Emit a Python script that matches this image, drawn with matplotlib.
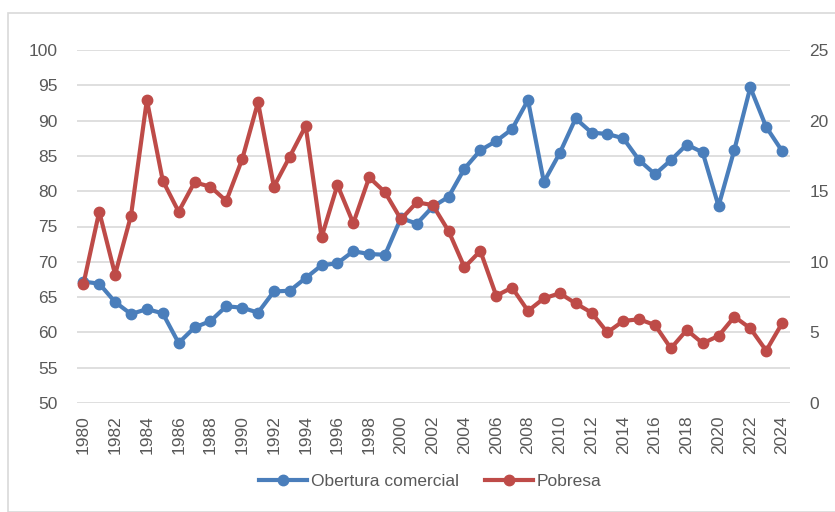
import numpy as np
import matplotlib.pyplot as plt
from matplotlib.patches import Rectangle

years = list(range(1980, 2025))

# left axis
obertura = [67.2, 66.9, 64.3, 62.6, 63.3, 62.7, 58.5, 60.7, 61.6, 63.7,
            63.5, 62.8, 65.8, 65.9, 67.7, 69.5, 69.8, 71.5, 71.1, 71.0,
            76.2, 75.4, 77.8, 79.2, 83.2, 85.8, 87.1, 88.8, 92.9, 81.3,
            85.4, 90.3, 88.3, 88.1, 87.5, 84.4, 82.4, 84.4, 86.6, 85.5,
            77.9, 85.9, 94.7, 89.1, 85.7]
# right axis
pobresa = [8.4, 13.55, 9.1, 13.27, 21.46, 15.75, 13.55, 15.63, 15.32, 14.31,
           17.26, 21.3, 15.32, 17.45, 19.62, 11.73, 15.44, 12.73, 15.98, 14.92,
           13.01, 14.21, 14.02, 12.18, 9.61, 10.77, 7.6, 8.17, 6.52, 7.41,
           7.77, 7.06, 6.4, 5.0, 5.81, 5.93, 5.52, 3.87, 5.17, 4.23,
           4.75, 6.11, 5.29, 3.71, 5.64]

blue = '#4a7ebb'
red = '#be4b48'
txt = '#595959'

plt.rcParams['font.family'] = ['Liberation Sans', 'DejaVu Sans']

fig = plt.figure(figsize=(8.35, 5.12), dpi=100)
fig.patches.append(Rectangle((8/835, 0), 1, 1 - 13/512, transform=fig.transFigure,
                             fill=False, edgecolor='#d9d9d9', linewidth=1.2))
ax = fig.add_axes([77/835, 1 - 403/512, 713/835, 353/512])
ax2 = ax.twinx()

l1, = ax.plot(years, obertura, color=blue, lw=3, marker='o', ms=7.5, label='Obertura comercial')
l2, = ax2.plot(years, pobresa, color=red, lw=3, marker='o', ms=7.5, label='Pobresa')

ax.set_ylim(50, 100)
ax.set_yticks(np.arange(50, 101, 5))
ax2.set_ylim(0, 25)
ax2.set_yticks(np.arange(0, 26, 5))
ax.set_xlim(1979.6, 2024.5)
ax.set_xticks(years[::2])
ax.set_xticklabels([str(y) for y in years[::2]], rotation=90)

ax.grid(axis='y', color='#d9d9d9', lw=1.2)
ax.set_axisbelow(True)
for a in (ax, ax2):
    for s in a.spines.values():
        s.set_visible(False)
    a.tick_params(length=0, labelsize=12.5, colors=txt)
ax.tick_params(axis='y', pad=14)
ax2.tick_params(axis='y', pad=14)
ax.tick_params(axis='x', pad=9)

fig.legend(handles=[l1, l2], loc='center', bbox_to_anchor=(430/835, 1 - 481/512),
           ncol=2, frameon=False, fontsize=12.5, labelcolor=txt,
           handlelength=2.8, handletextpad=0.2, columnspacing=1.5)

fig.savefig('out.png', dpi=100)
